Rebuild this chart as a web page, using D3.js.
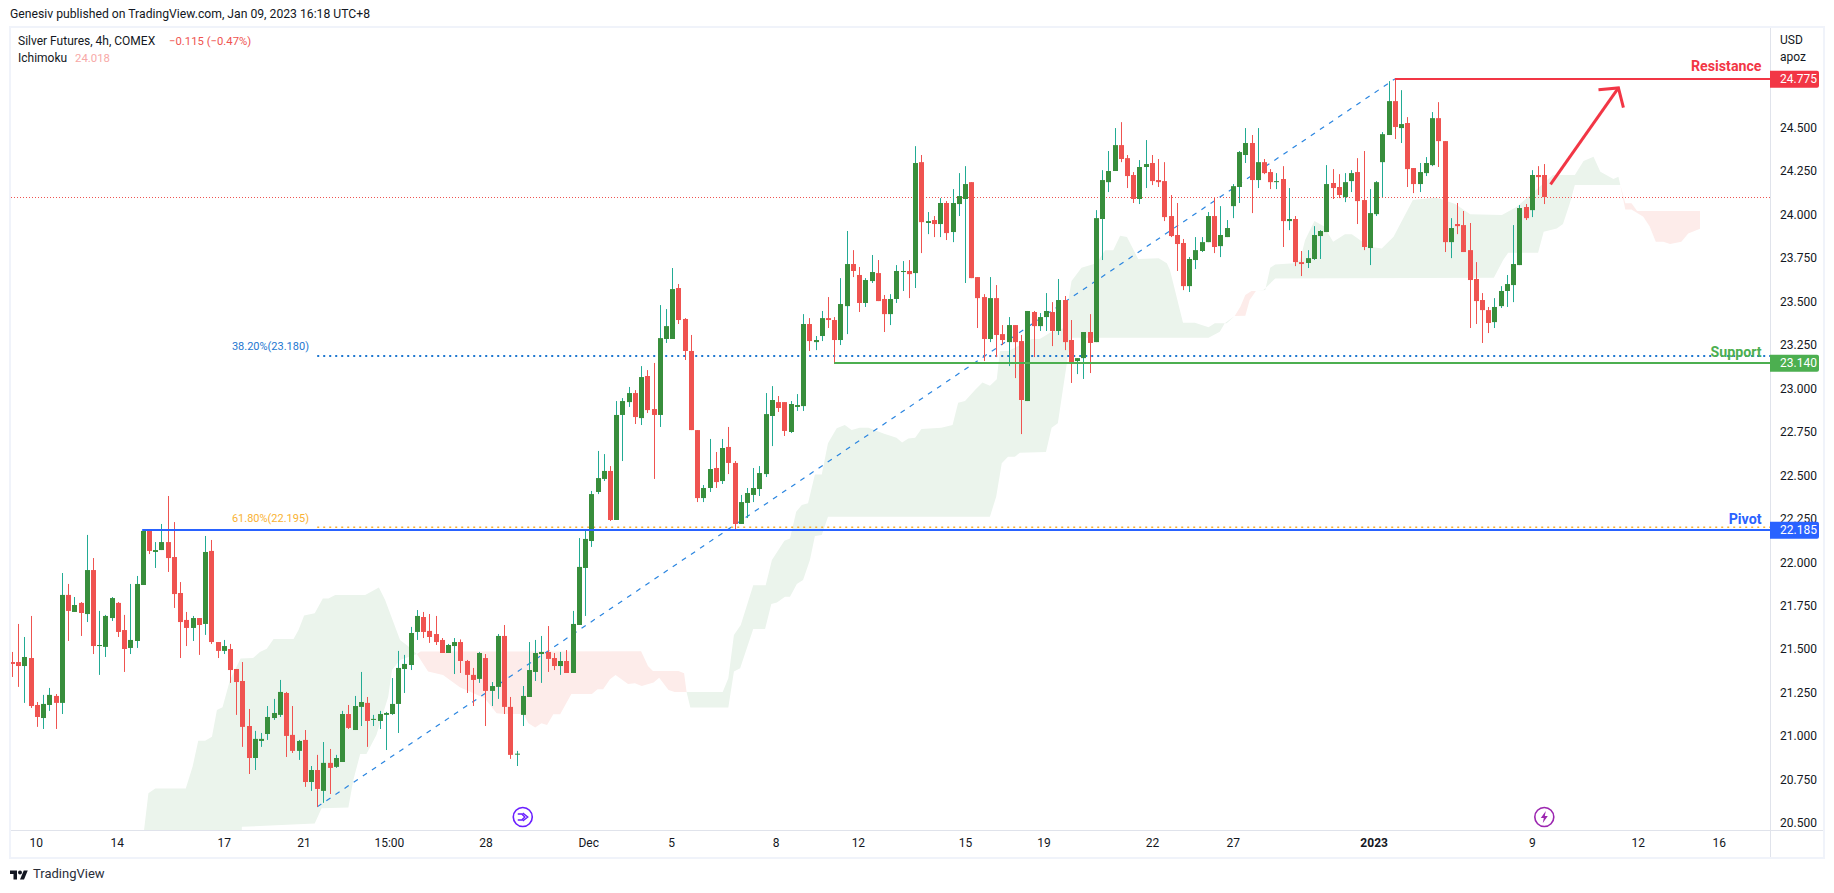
<!DOCTYPE html>
<html>
<head>
<meta charset="utf-8">
<script src="https://cdnjs.cloudflare.com/ajax/libs/d3/7.8.5/d3.min.js"></script>
<style>
html,body{margin:0;padding:0;background:#fff;overflow:hidden}
svg{display:block}
text{font-family:Roboto,sans-serif}
</style>
</head>
<body>
<div id="chart"></div>
<script>
const open = [
21.420,21.420,21.397,21.443,21.173,21.098,21.173,21.225,21.185,21.806,
21.708,21.760,21.696,21.949,21.512,21.507,21.673,21.760,21.604,21.501,
21.541,21.863,22.179,22.053,22.064,22.110,22.024,21.817,21.662,21.616,
21.673,21.639,22.059,21.535,21.484,21.495,21.380,21.311,21.052,20.868,
20.966,21.006,21.098,21.116,21.242,21.001,20.909,20.972,20.730,20.799,
20.679,20.840,20.817,20.845,21.121,21.029,21.162,21.185,21.087,21.081,
21.116,21.121,21.179,21.380,21.403,21.593,21.679,21.599,21.581,21.547,
21.472,21.512,21.535,21.426,21.346,21.323,21.443,21.254,21.277,21.570,
21.162,20.888,21.116,21.219,21.363,21.466,21.478,21.443,21.397,21.426,
21.357,21.633,21.961,22.116,22.398,22.473,22.519,22.237,22.841,22.915,
22.967,22.823,23.065,22.875,22.841,23.278,23.278,23.571,23.393,23.209,
22.754,22.363,22.421,22.536,22.461,22.657,22.565,22.214,22.335,22.381,
22.415,22.501,22.835,22.915,22.915,22.743,22.887,22.892,23.364,23.260,
23.295,23.398,23.387,23.272,23.467,23.709,23.646,23.485,23.611,23.657,
23.508,23.421,23.508,23.663,23.669,23.657,24.295,23.945,23.962,23.939,
24.060,23.893,24.054,24.083,24.180,23.634,23.519,23.278,23.513,23.306,
23.260,23.358,23.266,22.921,23.433,23.352,23.404,23.433,23.324,23.502,
23.272,23.151,23.168,23.318,23.260,23.968,24.180,24.244,24.393,24.318,
24.221,24.083,24.267,24.290,24.192,24.186,23.985,23.876,23.830,23.582,
23.732,23.784,23.835,23.985,23.812,23.864,24.042,24.152,24.336,24.405,
24.192,24.295,24.238,24.180,24.198,23.956,23.968,23.720,23.715,23.738,
23.870,23.893,24.175,24.152,24.094,24.186,24.238,24.077,23.801,23.996,
24.295,24.451,24.646,24.491,24.520,24.261,24.169,24.232,24.278,24.548,
24.416,23.835,23.939,23.933,23.789,23.623,23.502,23.444,23.375,23.467,
23.554,23.588,23.703,24.037,24.019,24.221,24.221];
const high = [
21.478,21.639,21.564,21.685,21.190,21.231,21.271,21.236,21.932,21.869,
21.794,21.765,22.151,22.018,21.714,21.691,21.794,21.765,21.691,21.869,
21.915,22.179,22.183,22.110,22.214,22.375,22.225,21.880,21.708,21.685,
21.673,22.145,22.122,21.535,21.547,21.524,21.380,21.420,21.150,21.024,
21.012,21.167,21.208,21.317,21.248,21.167,20.972,21.029,20.822,20.886,
20.960,20.920,20.886,21.139,21.173,21.225,21.363,21.219,21.116,21.139,
21.133,21.328,21.484,21.461,21.622,21.719,21.708,21.696,21.685,21.558,
21.524,21.558,21.550,21.432,21.386,21.478,21.466,21.305,21.581,21.633,
21.219,20.909,21.282,21.535,21.547,21.570,21.627,21.472,21.478,21.489,
21.714,22.133,22.180,22.404,22.634,22.616,22.547,22.921,22.938,23.002,
22.984,23.122,23.099,23.140,23.473,23.450,23.686,23.594,23.398,23.301,
22.754,22.438,22.703,22.628,22.703,22.772,22.576,22.381,22.421,22.536,
22.547,22.967,23.007,22.950,22.915,22.921,22.961,23.421,23.398,23.295,
23.439,23.519,23.404,23.628,23.899,23.789,23.692,23.628,23.761,23.732,
23.531,23.536,23.703,23.726,23.732,24.387,24.336,24.008,23.985,24.088,
24.071,24.140,24.232,24.272,24.180,23.634,23.536,23.634,23.588,23.358,
23.404,23.358,23.301,23.439,23.439,23.427,23.542,23.490,23.623,23.525,
23.387,23.168,23.318,23.421,24.019,24.249,24.359,24.491,24.525,24.336,
24.238,24.307,24.422,24.336,24.313,24.295,24.106,24.060,23.853,23.749,
23.864,23.864,24.008,24.094,24.042,23.962,24.169,24.359,24.491,24.451,
24.491,24.313,24.255,24.232,24.272,24.146,23.985,23.784,23.789,23.927,
23.904,24.278,24.255,24.226,24.232,24.249,24.318,24.359,24.140,24.186,
24.468,24.761,24.773,24.709,24.554,24.261,24.290,24.324,24.583,24.640,
24.416,23.973,24.060,24.014,23.945,23.720,23.542,23.462,23.513,23.582,
23.646,23.933,24.048,24.054,24.249,24.272,24.284];
const low = [
21.334,21.277,21.185,21.156,21.047,21.035,21.139,21.035,21.121,21.541,
21.708,21.570,21.650,21.466,21.346,21.449,21.656,21.564,21.363,21.466,
21.501,21.863,22.041,21.961,22.064,21.938,21.731,21.443,21.512,21.541,
21.461,21.576,21.524,21.443,21.466,21.300,21.116,20.932,20.776,20.799,
20.932,20.972,21.087,21.104,20.874,20.897,20.857,20.702,20.679,20.587,
20.610,20.661,20.811,20.845,21.035,21.029,21.052,20.932,21.052,21.035,
20.914,21.116,21.012,21.242,21.374,21.547,21.558,21.530,21.518,21.472,
21.472,21.351,21.357,21.242,21.167,21.300,21.052,21.167,21.208,21.121,
20.863,20.822,21.052,21.219,21.311,21.300,21.363,21.374,21.346,21.357,
21.357,21.633,21.685,22.082,22.386,22.461,22.231,22.237,22.576,22.887,
22.789,22.783,22.852,22.473,22.772,23.255,23.278,23.364,23.157,22.754,
22.340,22.340,22.398,22.421,22.444,22.501,22.185,22.214,22.248,22.340,
22.375,22.484,22.662,22.858,22.720,22.737,22.864,22.864,23.209,23.214,
23.266,23.341,23.134,23.243,23.306,23.634,23.433,23.462,23.600,23.496,
23.318,23.358,23.485,23.554,23.513,23.571,23.772,23.881,23.864,23.864,
23.847,23.835,23.985,23.600,23.628,23.341,23.151,23.260,23.174,23.243,
23.122,23.053,22.731,22.921,23.174,23.324,23.324,23.237,23.301,23.214,
23.025,23.076,23.048,23.082,23.260,23.732,24.123,24.244,24.295,24.146,
24.060,24.054,24.146,24.163,24.152,23.956,23.864,23.669,23.559,23.548,
23.680,23.778,23.835,23.772,23.749,23.864,23.973,24.060,24.290,24.002,
24.146,24.226,24.140,24.140,23.807,23.904,23.697,23.640,23.686,23.732,
23.738,23.893,24.083,24.088,24.065,24.123,23.939,23.789,23.703,23.985,
24.094,24.451,24.428,24.405,24.152,24.117,24.123,24.215,24.272,24.267,
23.778,23.743,23.881,23.778,23.341,23.364,23.255,23.312,23.341,23.456,
23.462,23.490,23.703,23.962,23.979,24.106,24.054];
const close = [
21.409,21.397,21.449,21.167,21.104,21.179,21.231,21.185,21.806,21.714,
21.748,21.702,21.949,21.512,21.518,21.685,21.788,21.593,21.495,21.547,
21.869,22.174,22.059,22.064,22.110,22.018,21.811,21.650,21.616,21.673,
21.633,22.053,21.535,21.484,21.512,21.374,21.305,21.047,20.868,20.978,
20.978,21.104,21.127,21.248,20.995,20.909,20.966,20.730,20.799,20.690,
20.840,20.811,20.868,21.121,21.041,21.167,21.190,21.081,21.093,21.121,
21.127,21.179,21.386,21.409,21.587,21.685,21.593,21.564,21.535,21.472,
21.518,21.535,21.426,21.346,21.317,21.472,21.254,21.282,21.570,21.162,
20.886,20.893,21.225,21.374,21.472,21.478,21.438,21.397,21.426,21.357,
21.639,21.967,22.128,22.386,22.478,22.519,22.237,22.841,22.921,22.967,
22.829,23.059,22.869,22.841,23.283,23.352,23.565,23.387,23.209,22.754,
22.363,22.421,22.530,22.455,22.651,22.565,22.214,22.340,22.392,22.421,
22.507,22.846,22.927,22.881,22.749,22.904,22.898,23.364,23.266,23.272,
23.398,23.387,23.272,23.479,23.709,23.669,23.485,23.617,23.663,23.496,
23.421,23.508,23.669,23.669,23.651,24.290,23.950,23.956,23.939,24.060,
23.887,24.060,24.100,24.169,23.628,23.513,23.278,23.513,23.301,23.272,
23.358,23.260,22.927,23.439,23.352,23.404,23.439,23.324,23.502,23.260,
23.145,23.168,23.318,23.255,23.973,24.192,24.244,24.393,24.313,24.215,
24.083,24.267,24.284,24.186,24.180,23.979,23.870,23.824,23.582,23.738,
23.789,23.835,23.985,23.807,23.876,23.916,24.157,24.353,24.405,24.192,
24.295,24.232,24.180,24.186,23.956,23.968,23.720,23.709,23.743,23.876,
23.899,24.169,24.146,24.106,24.180,24.232,24.071,23.807,24.002,24.180,
24.456,24.646,24.497,24.514,24.255,24.169,24.238,24.290,24.548,24.416,
23.835,23.916,23.927,23.778,23.617,23.496,23.444,23.370,23.462,23.554,
23.594,23.709,24.031,23.973,24.221,24.209,24.094];

// Ichimoku cloud outlines as [bar index, price]
const green1Top = [[21.2,20.454],[21.9,20.665],[23,20.692],[27.9,20.692],[29,20.819],[29.9,20.968],[31,20.968],[32.1,20.991],[32.9,21.144],[33.8,21.16],[35,21.317],[36.7,21.44],[38.7,21.443],[39.8,21.478],[40.9,21.497],[42,21.553],[45.2,21.553],[46,21.604],[46.9,21.687],[48.6,21.7],[49.9,21.785],[50.8,21.785],[51.9,21.806],[56.7,21.806],[58.9,21.848],[59.9,21.777],[62.3,21.547],[63.5,21.514],[65,21.466]];
const green1Bottom = [[21.2,20.4],[36.9,20.4],[36.9,20.472],[48.6,20.491],[49.7,20.579],[54,20.583],[54.8,20.742],[55.9,20.891],[56.9,20.891],[58.5,21.001],[60.4,21.221],[61,21.374],[62.3,21.432],[65,21.466]];
const red1Top = [[65,21.466],[65.6,21.48],[101,21.482],[102.1,21.397],[102.9,21.369],[107,21.369],[107.9,21.355],[108.3,21.248]];
const red1Bottom = [[65,21.466],[66.8,21.365],[69.2,21.346],[71.9,21.275],[74.1,21.24],[75.9,21.212],[77.8,21.125],[79.1,21.121],[82.1,21.121],[82.9,21.068],[84,21.043],[85,21.068],[85.9,21.058],[86.9,21.12],[88,21.12],[89.8,21.236],[93.1,21.236],[94,21.263],[94.9,21.263],[96,21.321],[96.9,21.346],[98.9,21.294],[100,21.298],[101.1,21.282],[103,21.302],[103.9,21.33],[105.4,21.259],[106.4,21.248],[108.3,21.248]];
const green2Top = [[108.3,21.248],[114.1,21.248],[115,21.327],[115.9,21.576],[117,21.633],[119,21.861],[121,21.861],[122,22.007],[124,22.118],[124.9,22.131],[125.9,22.285],[126.8,22.323],[127.8,22.333],[128.9,22.499],[130,22.499],[131,22.678],[132.4,22.764],[133.7,22.783],[134.8,22.754],[136.1,22.768],[137.5,22.768],[139.9,22.735],[142,22.71],[142.9,22.682],[143.9,22.705],[145,22.71],[146,22.76],[149.2,22.768],[151,22.783],[151.9,22.911],[153,22.921],[154.6,22.984],[155.8,23.027],[157,23.009],[158.1,23.046],[158.6,23.209],[160,23.209],[163.7,23.278],[165,23.278],[166.9,23.32],[168.8,23.339],[169.6,23.502],[170.1,23.611],[171.7,23.688],[174.1,23.713],[175.5,23.789],[176.8,23.789],[177.9,23.872],[179,23.864],[180.8,23.738],[184.1,23.742],[185.4,23.713],[185.9,23.674],[188,23.372],[189.9,23.372],[192.1,23.345],[193.1,23.368],[195,23.368],[196.3,23.41]];
const green2Bottom = [[108.3,21.248],[108.9,21.158],[115,21.158],[115.9,21.365],[116.9,21.384],[119,21.61],[120.9,21.61],[121.9,21.754],[122.8,21.762],[124.1,21.796],[124.9,21.796],[126,21.869],[127,21.892],[128.1,22.007],[128.9,22.145],[130,22.151],[131,22.256],[157,22.256],[158,22.371],[158.9,22.563],[159.9,22.601],[161,22.601],[161.8,22.624],[166,22.628],[166.9,22.767],[167.9,22.793],[168.7,22.984],[169.5,23.175],[170.1,23.285],[192.1,23.285],[193.9,23.32],[194.7,23.368],[196.3,23.41]];
const red2Top = [[196.3,23.41],[197.2,23.464],[198,23.531],[199,23.554],[199.7,23.554]];
const red2Bottom = [[196.3,23.41],[198,23.412],[198.7,23.502],[199.7,23.554]];
const green3Top = [[199.7,23.554],[201.2,23.559],[202,23.688],[202.8,23.707],[205.8,23.713],[206.8,23.732],[207.6,23.847],[209.1,23.956],[210.6,23.927],[212.1,23.837],[214,23.881],[215.1,23.881],[216.4,23.847],[218,23.809],[219.9,23.799],[221.8,23.866],[224.9,24.077],[228.7,24.092],[231.7,24.054],[234.1,23.996],[239.2,23.991],[241.6,24.039],[247.4,24.221],[250.9,24.221],[252.3,24.301],[253.9,24.326],[255,24.24],[257.1,24.198],[257.9,24.211],[258.2,24.163]];
const green3Bottom = [[199.7,23.554],[200.9,23.559],[202.8,23.626],[237.9,23.63],[239.4,23.732],[240.2,23.774],[245,23.774],[245.9,23.895],[248,23.914],[249,23.939],[250.1,24.058],[250.9,24.163],[258.2,24.163]];
const red3Top = [[258.2,24.163],[259,24.058],[260,24.058],[260.9,24.014],[271,24.014]];
const red3Bottom = [[258.2,24.163],[259,24.023],[260,24.023],[261.9,23.981],[262.9,23.927],[263.9,23.837],[265.1,23.837],[266.2,23.824],[268,23.837],[269.1,23.885],[271,23.912]];

const priceTicks = [20.5,20.75,21,21.25,21.5,21.75,22,22.25,22.5,22.75,23,23.25,23.5,23.75,24,24.25,24.5];
const timeTickBars = [3.8,16.8,34,46.8,60.5,76,92.5,105.8,122.6,135.8,153,165.6,183,196,218.6,244,261,274];
const timeTickLabels = ["10","14","17","21","15:00","28","Dec","5","8","12","15","19","22","27","2023","9","12","16"];

const resistance = 24.775, support = 23.14, pivot = 22.185;
const fibLevel382 = 23.18, fibLevel618 = 22.195;
const fibStart = [49,20.587], fibEnd = [222,24.773];
const levelStartBars = {pivot:20.9, support:132, resistance:222};
const arrowShaft = [[247,24.167],[257.9,24.722]];
const arrowHead = [[254.7,24.711],[257.9,24.722],[258.7,24.608]];

const W=1834,H=893,paneL=11,paneR=1770,paneT=28,paneB=830;
const x = d3.scaleLinear().domain([0,246]).range([12,1544.3]);
const y = d3.scaleLinear().domain([20.5,24.5]).range([822,126.5]);
const levelY = p => Math.floor(y(p))+1;

const svg = d3.select('#chart').append('svg').attr('width',W).attr('height',H);
svg.append('defs').append('clipPath').attr('id','pane').append('rect')
  .attr('x',paneL).attr('y',paneT).attr('width',paneR-paneL).attr('height',paneB-paneT);

const FONT_INK='#131722';

// frame
svg.append('rect').attr('x',10).attr('y',27).attr('width',1814).attr('height',831)
  .attr('fill','none').attr('stroke','#f0f3fa').attr('stroke-width',2);

const pane = svg.append('g').attr('clip-path','url(#pane)');
const lineGen = d3.line().x(d=>x(d[0])).y(d=>y(d[1]));

// cloud
const clouds = [
 [green1Top,green1Bottom,'#ebf4ec'],[red1Top,red1Bottom,'#fdecea'],
 [green2Top,green2Bottom,'#ebf4ec'],[red2Top,red2Bottom,'#fdecea'],
 [green3Top,green3Bottom,'#ebf4ec'],[red3Top,red3Bottom,'#fdecea']];
pane.selectAll('path.cloud').data(clouds).join('path').attr('class','cloud')
  .attr('d',d=>lineGen(d[0].concat(d[1].slice().reverse()))+'Z')
  .attr('fill',d=>d[2]);

// last price dotted line
pane.append('line').attr('x1',paneL).attr('x2',paneR)
  .attr('y1',Math.round(y(close[close.length-1]))+.5).attr('y2',Math.round(y(close[close.length-1]))+.5)
  .attr('stroke','#ef5350').attr('stroke-dasharray','1 2');

// fib diagonal and levels
pane.append('path').attr('d',lineGen([fibStart,fibEnd])).attr('fill','none')
  .attr('stroke','#2a85e0').attr('stroke-width',1.2).attr('stroke-dasharray','5 6');
pane.append('line').attr('x1',x(fibStart[0])).attr('x2',paneR)
  .attr('y1',y(fibLevel382)).attr('y2',y(fibLevel382))
  .attr('stroke','#1e77d0').attr('stroke-width',2).attr('stroke-dasharray','2 4');
pane.append('line').attr('x1',x(fibStart[0])).attr('x2',paneR)
  .attr('y1',y(fibLevel618)).attr('y2',y(fibLevel618))
  .attr('stroke','#f9b233').attr('stroke-width',1.5).attr('stroke-dasharray','2 4');

// candles
const bars = d3.range(close.length);
const wickCol = i=> close[i]>=open[i] ? '#22ab94' : '#ef5350';
const bodyCol = i=> close[i]>=open[i] ? '#388e3c' : '#ef5350';
pane.selectAll('line.w').data(bars).join('line').attr('class','w')
  .attr('x1',i=>Math.round(x(i))+.5).attr('x2',i=>Math.round(x(i))+.5)
  .attr('y1',i=>y(high[i])).attr('y2',i=>y(low[i]))
  .attr('stroke',wickCol).attr('stroke-width',1);
pane.selectAll('rect.b').data(bars).join('rect').attr('class','b')
  .attr('x',i=>Math.round(x(i))-2).attr('width',5)
  .attr('y',i=>y(Math.max(open[i],close[i])))
  .attr('height',i=>Math.max(1,Math.abs(y(open[i])-y(close[i]))))
  .attr('fill',bodyCol);

// horizontal levels
const levels=[[pivot,levelStartBars.pivot,'#2962ff'],[support,levelStartBars.support,'#4caf50'],[resistance,levelStartBars.resistance,'#f23645']];
pane.selectAll('line.lv').data(levels).join('line').attr('class','lv')
  .attr('x1',d=>x(d[1])).attr('x2',paneR)
  .attr('y1',d=>levelY(d[0])).attr('y2',d=>levelY(d[0]))
  .attr('stroke',d=>d[2]).attr('stroke-width',2);

// arrow
pane.append('path').attr('d',lineGen(arrowShaft)).attr('fill','none')
  .attr('stroke','#f23645').attr('stroke-width',3);
pane.append('path').attr('d',lineGen(arrowHead)).attr('fill','none')
  .attr('stroke','#f23645').attr('stroke-width',3);

// fib labels
svg.append('text').attr('x',309).attr('y',y(fibLevel382)-9).attr('text-anchor','end')
  .attr('font-size',11).attr('fill','#1e77d0').attr('dominant-baseline','middle').text('38.20%(23.180)');
svg.append('text').attr('x',309).attr('y',y(fibLevel618)-8).attr('text-anchor','end')
  .attr('font-size',11).attr('fill','#f9b233').attr('dominant-baseline','middle').text('61.80%(22.195)');

// level labels
const levelLabels=[['Resistance',resistance,'#f23645',-11],['Support',support,'#4caf50',-10],['Pivot',pivot,'#2962ff',-9]];
svg.selectAll('text.ll').data(levelLabels).join('text').attr('class','ll')
  .attr('x',1761.5).attr('y',d=>y(d[1])+d[3]).attr('text-anchor','end')
  .attr('font-size',14.2).attr('font-weight',700).attr('fill',d=>d[2])
  .attr('dominant-baseline','middle').text(d=>d[0]);

// axes
const yAxis = d3.axisRight(y).tickValues(priceTicks).tickFormat(d3.format('.3f')).tickSize(0).tickPadding(10);
const gy = svg.append('g').attr('transform',`translate(${paneR},1)`).call(yAxis);
gy.select('.domain').remove();
gy.selectAll('text').attr('font-size',12).attr('font-family','Roboto,sans-serif').attr('fill',FONT_INK);

const xAxis = d3.axisBottom(x).tickValues(timeTickBars).tickFormat((d,i)=>timeTickLabels[i]).tickSize(0).tickPadding(8);
const gx = svg.append('g').attr('transform',`translate(0,${paneB})`).call(xAxis);
gx.select('.domain').remove();
gx.selectAll('text').attr('font-size',12).attr('font-family','Roboto,sans-serif').attr('fill',FONT_INK)
  .attr('font-weight',(d,i)=>timeTickLabels[i]==='2023'?700:400);

svg.append('line').attr('x1',paneL).attr('x2',1823).attr('y1',paneB+.5).attr('y2',paneB+.5).attr('stroke','#e0e3eb');
svg.append('line').attr('x1',paneR+.5).attr('x2',paneR+.5).attr('y1',paneT).attr('y2',857).attr('stroke','#e0e3eb');

// price badges
const badges=[[resistance,'#f23645','24.775'],[support,'#4caf50','23.140'],[pivot,'#2962ff','22.185']];
const bg=svg.selectAll('g.bd').data(badges).join('g').attr('class','bd');
bg.append('path').attr('fill',d=>d[1]).attr('d',d=>{
  const t=levelY(d[0])-8.2,b=levelY(d[0])+8.8;
  return `M${paneR},${t}H1817a2,2 0 0 1 2,2V${b-2}a2,2 0 0 1 -2,2H${paneR}Z`;});
bg.append('text').attr('x',1780).attr('y',d=>levelY(d[0])+.5).attr('dominant-baseline','middle')
  .attr('font-size',12).attr('fill','#fff').text(d=>d[2]);

svg.append('text').attr('x',1780).attr('y',41).attr('dominant-baseline','middle').attr('font-size',12).attr('fill',FONT_INK).text('USD');
svg.append('text').attr('x',1780).attr('y',58).attr('dominant-baseline','middle').attr('font-size',12).attr('fill',FONT_INK).text('apoz');

// header
svg.append('text').attr('x',10).attr('y',15).attr('dominant-baseline','middle').attr('font-size',12.2).attr('fill',FONT_INK)
  .text('Genesiv published on TradingView.com, Jan 09, 2023 16:18 UTC+8');
svg.append('text').attr('x',18).attr('y',42).attr('dominant-baseline','middle').attr('font-size',12).attr('fill',FONT_INK).text('Silver Futures, 4h, COMEX');
svg.append('text').attr('x',169).attr('y',42).attr('dominant-baseline','middle').attr('font-size',11.3).attr('fill','#ef5350').text('−0.115 (−0.47%)');
svg.append('text').attr('x',18).attr('y',59).attr('dominant-baseline','middle').attr('font-size',12).attr('fill',FONT_INK).text('Ichimoku');
svg.append('text').attr('x',75).attr('y',59).attr('dominant-baseline','middle').attr('font-size',11.4).attr('fill','#f7a9a7').text('24.018');

// event icons
const icon1=svg.append('g').attr('transform',`translate(${x(82)},817)`);
icon1.append('circle').attr('r',9.5).attr('fill','#fff').attr('stroke','#6a1fff').attr('stroke-width',1.6);
icon1.append('path').attr('d','M-5,-3 L-1,-3 L2,0 L-1,3 L-5,3 M0,-4 L5,0 L0,4').attr('fill','none').attr('stroke','#6a1fff').attr('stroke-width',1.4);
const icon2=svg.append('g').attr('transform',`translate(${x(246)},817)`);
icon2.append('circle').attr('r',9.5).attr('fill','#fff').attr('stroke','#9c27b0').attr('stroke-width',1.6);
icon2.append('path').attr('d','M1.5,-6 L-3.5,1 L-0.5,1 L-1.5,6 L3.5,-1 L0.5,-1 Z').attr('fill','#9c27b0');

// logo
const logo=svg.append('g').attr('transform','translate(10,868.5) scale(.5)').attr('fill','#131722');
logo.append('path').attr('d','M14 22H7V11H0V4h14v18zM28 22h-8l7.5-18h8L28 22z');
logo.append('circle').attr('cx',20).attr('cy',8).attr('r',4);
svg.append('text').attr('x',33).attr('y',875).attr('dominant-baseline','middle').attr('font-size',13).attr('fill','#2a2e39').text('TradingView');
</script>
</body>
</html>
